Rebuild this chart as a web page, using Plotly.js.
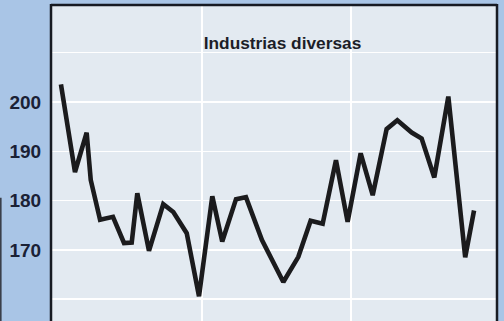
<!DOCTYPE html>
<html>
<head>
<meta charset="utf-8">
<script src="https://cdn.plot.ly/plotly-3.0.1.min.js"></script>
<style>
html,body{margin:0;padding:0;background:#a9c5e6;}
#chart{width:504px;height:321px;}
</style>
</head>
<body>
<div id="chart"></div>
<script>
// Time position (months) and index values
const months = [0.64, 1.77, 2.71, 3.04, 3.79, 4.83, 5.72, 6.34, 6.79, 7.73,
  8.88, 9.69, 10.77, 11.76, 12.83, 13.63, 14.74, 15.54, 16.83, 18.55,
  19.76, 20.75, 21.72, 22.79, 23.73, 24.78, 25.75, 26.87, 27.73, 28.89,
  29.69, 30.71, 31.84, 33.20, 33.91];
const values = [203.6, 185.8, 193.8, 184.2, 176.1, 176.7, 171.4, 171.5, 181.5, 169.8,
  179.3, 177.7, 173.4, 160.6, 180.9, 171.7, 180.3, 180.7, 172.0, 163.5,
  168.6, 175.9, 175.3, 188.2, 175.7, 189.6, 181.1, 194.5, 196.3, 193.8,
  192.6, 184.7, 201.1, 168.5, 178.0];
const yTickVals = [160, 170, 180, 190, 200, 210];
const yTickText = ["", "170", "180", "190", "200", ""];
const xGridVals = [12, 24];
const titleText = "Industrias diversas";

const frameColor = "#171a22";
const trace = {
  x: months, y: values, type: "scatter", mode: "lines",
  line: {color: "#1b1b1d", width: 4.6},
  hoverinfo: "skip"
};
const layout = {
  width: 504, height: 321,
  margin: {l: 51, r: 7, t: 5, b: 0, pad: 0},
  paper_bgcolor: "#a9c5e6",
  plot_bgcolor: "#e3eaf1",
  showlegend: false,
  title: {
    text: titleText,
    font: {family: "Liberation Sans", size: 17.3, color: "#1c1e28", weight: "bold"},
    x: 282.5/504, xanchor: "center", xref: "container",
    y: 1 - 43/321, yanchor: "middle", yref: "container"
  },
  xaxis: {
    range: [-0.161, 35.76],
    tickvals: xGridVals, showticklabels: false, ticks: "",
    showgrid: true, gridcolor: "#ffffff", gridwidth: 1.5,
    zeroline: false, showline: false, fixedrange: true
  },
  yaxis: {
    range: [155.58, 219.68],
    tickvals: yTickVals, ticktext: yTickText,
    ticks: "outside", ticklen: 5, tickcolor: "rgba(0,0,0,0)",
    tickfont: {family: "Liberation Sans", size: 19, color: "#1a2135", weight: "bold"},
    showgrid: true, gridcolor: "#ffffff", gridwidth: 1.5,
    zeroline: false, showline: false, fixedrange: true
  },
  shapes: [
    {type: "line", xref: "paper", yref: "paper", x0: 0, x1: 0, y0: -0.02, y1: 1.003, line: {color: frameColor, width: 2.5}},
    {type: "line", xref: "paper", yref: "paper", x0: 0, x1: 1, y0: 1, y1: 1, line: {color: frameColor, width: 2.5}},
    {type: "line", xref: "paper", yref: "paper", x0: 1, x1: 1, y0: -0.02, y1: 1.003, line: {color: frameColor, width: 2.5}},
    {type: "line", xref: "paper", yref: "paper", x0: -0.113, x1: -0.113, y0: -0.02, y1: 0.39, line: {color: "#3a3f4a", width: 2}}
  ]
};
Plotly.newPlot("chart", [trace], layout, {staticPlot: true, displayModeBar: false});
</script>
</body>
</html>
